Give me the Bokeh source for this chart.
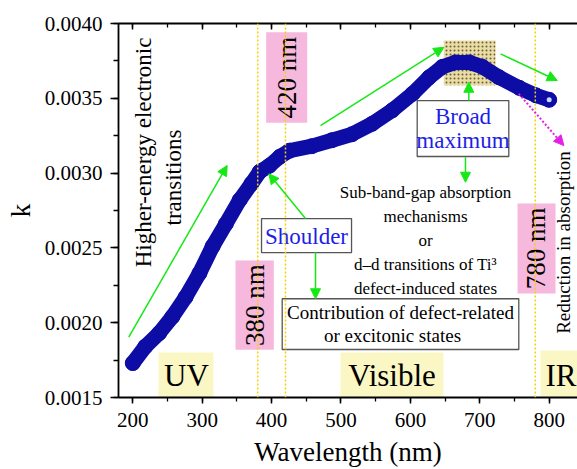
import math
from bokeh.plotting import figure
from bokeh.models import (Range1d, SingleIntervalTicker, LinearAxis, NumeralTickFormatter,
                          Arrow, NormalHead, Span, CustomJSTickFormatter)
from bokeh.core.properties import value
from bokeh.embed import file_html
from bokeh.resources import INLINE

# ---- data ----
wavelength = [200, 218, 238, 257, 276, 296, 315, 334, 354, 371, 383, 397, 412, 426,
              458, 487, 516, 545, 574, 603, 627, 646, 665, 685, 704, 728, 757, 781, 800]
k_values = [0.00173, 0.00184, 0.00193, 0.00204, 0.00217, 0.00233, 0.00251, 0.00266,
            0.00282, 0.00293, 0.00301, 0.00305, 0.00311, 0.00315, 0.00318, 0.00322,
            0.00326, 0.00333, 0.00342, 0.00353, 0.00364, 0.00371, 0.00374, 0.00374,
            0.00371, 0.00364, 0.00357, 0.00352, 0.00349]
boundaries = [380, 420, 780]
boundary_labels = ["380 nm", "420 nm", "780 nm"]
regions = ["UV", "Visible", "IR"]

FONT = value("Liberation Serif")
GREEN = "#16e816"
BLUE_CURVE = "#0d0da6"
PINK = "#f6b8dc"
YELLOW = "#fbf7c4"

p = figure(width=577, height=469, output_backend="svg", toolbar_location=None,
           x_range=Range1d(179.4, 840.8), y_range=Range1d(0.0015, 0.0040),
           min_border_left=118, min_border_right=0, min_border_top=23, min_border_bottom=72,
           x_axis_label="Wavelength (nm)", y_axis_label="k")
p.outline_line_color = None
p.xgrid.visible = False
p.ygrid.visible = False
p.background_fill_color = "white"
p.border_fill_color = "white"

xt = SingleIntervalTicker(interval=100, num_minor_ticks=2)
yt = SingleIntervalTicker(interval=0.0005, num_minor_ticks=2)
p.xaxis.ticker = xt
p.yaxis.ticker = yt
p.yaxis.formatter = NumeralTickFormatter(format="0.0000")
for ax in (p.xaxis[0], p.yaxis[0]):
    ax.axis_line_width = 1.8
    ax.major_tick_line_width = 1.5
    ax.minor_tick_line_width = 1.3
    ax.major_tick_in = 0
    ax.minor_tick_in = 0
    ax.major_label_text_font = "Liberation Serif"
    ax.major_label_text_font_size = "21px"
    ax.major_label_text_color = "black"
    ax.axis_label_text_font = "Liberation Serif"
    ax.axis_label_text_font_size = "27px"
    ax.axis_label_text_font_style = "normal"
    ax.axis_label_text_color = "black"
p.xaxis.major_tick_out = 6
p.xaxis.minor_tick_out = 4
p.xaxis.major_label_standoff = 9
p.xaxis.axis_label_standoff = 7
p.yaxis.major_tick_out = 8
p.yaxis.minor_tick_out = 5
p.yaxis.major_label_standoff = 8
p.yaxis.axis_label_standoff = 6

top = LinearAxis(ticker=SingleIntervalTicker(interval=100, num_minor_ticks=2),
                 formatter=CustomJSTickFormatter(code="return ''"),
                 major_tick_in=6, major_tick_out=0,
                 minor_tick_in=4, minor_tick_out=0, axis_line_width=1.8,
                 major_tick_line_width=1.5, minor_tick_line_width=1.3)
p.add_layout(top, "above")

# region boxes
p.quad(left=[237.0, 499.3, 787.5], right=[316.3, 647.7, 845], bottom=[0.0015] * 3,
       top=[0.001801, 0.001801, 0.001815], fill_color=YELLOW, line_color=None)
p.text(x=[277.4, 573.5], y=[0.001647, 0.001647], text=regions[:2], text_font=FONT,
       text_font_size=value("31px"), text_align="center", text_baseline="middle", text_color="black")
p.text(x=[794.7], y=[0.001647], text=regions[2:], text_font=FONT,
       text_font_size=value("31px"), text_align="left", text_baseline="middle", text_color="black")

# boundary lines
for b in boundaries:
    p.add_layout(Span(location=b, dimension="height", line_color="#f2d200",
                      line_dash="2 2", line_width=1.5))

# pink boundary labels
p.quad(left=[348.0, 392.2, 754.4], right=[403.2, 451.3, 809.1],
       bottom=[0.001819, 0.003336, 0.002195], top=[0.002416, 0.003942, 0.002797],
       fill_color=PINK, line_color=None)
p.text(x=[375.4, 421.5, 781.7], y=[0.002117, 0.003639, 0.002496], text=boundary_labels,
       angle=math.pi / 2, text_font=FONT, text_font_size=value("27px"),
       text_align="center", text_baseline="middle", text_color="black")

# dotted maximum rectangle
p.quad(left=[648.2], right=[722.7], bottom=[0.003585], top=[0.003886],
       fill_color="#e9dca4", line_color=None, hatch_pattern="dot", hatch_color="#6b5e3a",
       hatch_scale=4, hatch_weight=1)

# curve
p.line(wavelength, k_values, line_color=BLUE_CURVE, line_width=15, line_join="round", line_cap="round")
p.scatter(wavelength, k_values, size=15, fill_color=BLUE_CURVE, line_color=BLUE_CURVE, line_width=1)
p.scatter([wavelength[-1]], [k_values[-1]], size=5, fill_color="#c8d8ff", line_color=None)

# text annotations
p.text(x=[215.4, 258.7], y=[0.003138, 0.002970],
       text=["Higher-energy electronic", "transitions"], angle=math.pi / 2, text_font=FONT,
       text_font_size=value("23px"), text_align="center", text_baseline="middle", text_color="black")
p.text(x=[820.6], y=[0.002536], text=["Reduction in absorption"], angle=math.pi / 2, text_font=FONT,
       text_font_size=value("19px"), text_align="center", text_baseline="middle", text_color="black")

# boxes with labels
p.quad(left=[385.5, 609.8, 415.3], right=[515.2, 741.8, 756.2],
       bottom=[0.002469, 0.003111, 0.001821], top=[0.002696, 0.003485, 0.002160],
       fill_color="white", line_color="#555555", line_width=1.3)
p.text(x=[450.3], y=[0.002576], text=["Shoulder"], text_font=FONT, text_font_size=value("23px"),
       text_align="center", text_baseline="middle", text_color="#1e1ee6")
p.text(x=[675.8, 675.8], y=[0.003378, 0.003218], text=["Broad", "maximum"], text_font=FONT,
       text_font_size=value("23px"), text_align="center", text_baseline="middle", text_color="#1e1ee6")
p.text(x=[585.8, 574.2], y=[0.002068, 0.001914],
       text=["Contribution of defect-related", "or excitonic states"], text_font=FONT,
       text_font_size=value("19px"), text_align="center", text_baseline="middle", text_color="black")
p.text(x=[621.8] * 5, y=[0.002870, 0.002710, 0.002549, 0.002389, 0.002229],
       text=["Sub-band-gap absorption", "mechanisms", "or", "d–d transitions of Ti³",
             "defect-induced states"], text_font=FONT, text_font_size=value("17px"),
       text_align="center", text_baseline="middle", text_color="black")

# arrows
green_arrows = [
    (194.2, 0.001903, 336.0, 0.003051),
    (470.5, 0.003318, 648.2, 0.003841),
    (729.9, 0.003797, 811.6, 0.003619),
    (448.9, 0.002696, 396.0, 0.002995),
    (463.3, 0.002471, 463.3, 0.002160),
    (684.2, 0.003485, 684.2, 0.003607),
    (679.4, 0.003106, 679.4, 0.002939),
]
for x0, y0, x1, y1 in green_arrows:
    p.add_layout(Arrow(end=NormalHead(size=10, fill_color=GREEN, line_color=GREEN),
                       x_start=x0, y_start=y0, x_end=x1, y_end=y1,
                       line_color=GREEN, line_width=1.5))
p.add_layout(Arrow(end=NormalHead(size=10, fill_color="#e51fe5", line_color="#e51fe5"),
                   x_start=756.2, y_start=0.003530, x_end=821.1, y_end=0.003184,
                   line_color="#e51fe5", line_width=2, line_dash="2 2"))

open("out.html", "w").write(file_html(p, INLINE))
